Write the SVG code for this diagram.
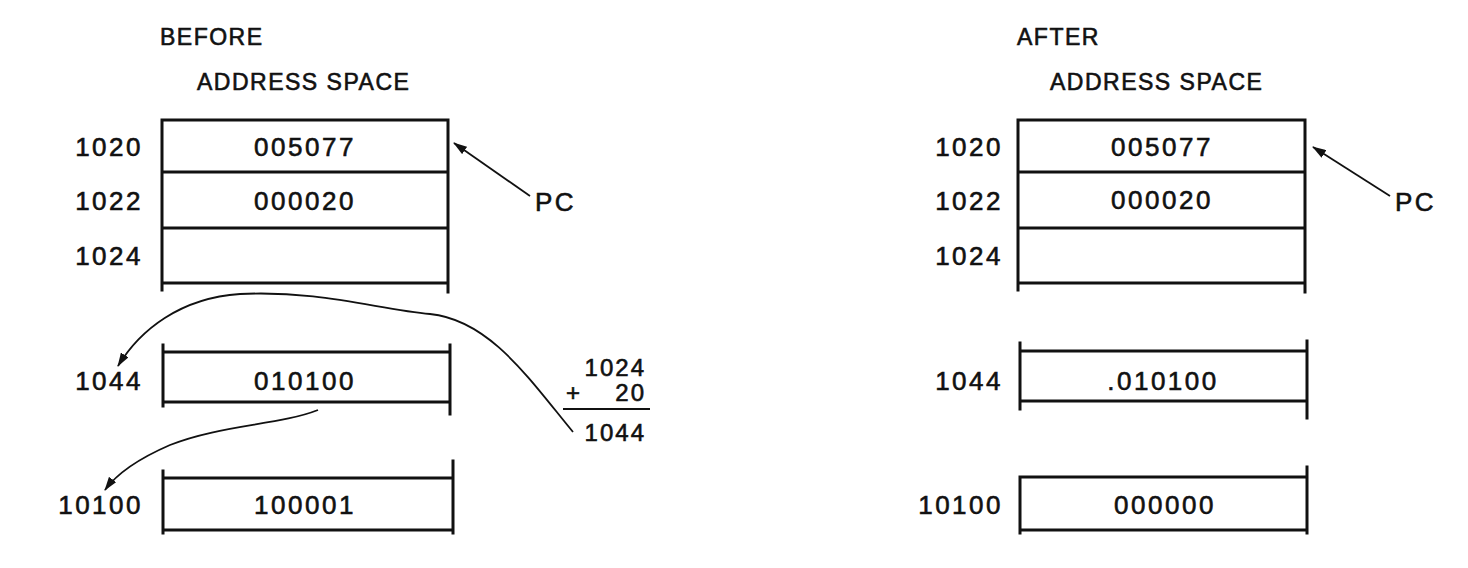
<svg xmlns="http://www.w3.org/2000/svg" width="1468" height="568" viewBox="0 0 1468 568">
<style>
text{font-family:"Liberation Sans",Arial,sans-serif;fill:#111;stroke:#111;stroke-width:0.6}
.h{font-size:23px;letter-spacing:1.5px}
.d{font-size:26px;letter-spacing:2.5px;dominant-baseline:central}
.s{font-size:24px;letter-spacing:2px;dominant-baseline:central}
.c{text-anchor:middle}
.r{text-anchor:end}
.box{stroke:#111;stroke-width:3;fill:none;stroke-linecap:square}
.con{stroke:#111;stroke-width:1.8;fill:none}
</style>
<defs>
<marker id="ah" viewBox="0 0 14 9" refX="13" refY="4.5" markerWidth="14" markerHeight="9" markerUnits="userSpaceOnUse" orient="auto">
<path d="M0,0 L14,4.5 L0,9 Z" fill="#111"/>
</marker>
</defs>
<rect width="1468" height="568" fill="#fff"/>

<g id="before-title">
<text class="h" x="160" y="45">BEFORE</text>
<text class="h" x="197" y="90">ADDRESS SPACE</text>
</g>
<g id="after-title">
<text class="h" x="1017" y="45">AFTER</text>
<text class="h" x="1050" y="90">ADDRESS SPACE</text>
</g>

<g id="before-top">
<path class="box" d="M162,120 H448 M162,172 H448 M162,228 H448 M162,283 H448 M162,120 V290 M448,120 V292"/>
<text class="d c" x="305" y="147">005077</text>
<text class="d c" x="305" y="201">000020</text>
<text class="d r" x="143" y="147">1020</text>
<text class="d r" x="143" y="201">1022</text>
<text class="d r" x="143" y="256">1024</text>
</g>
<g id="before-1044">
<path class="box" d="M163,352 H450 M163,402 H450 M163,345 V406 M450,345 V414"/>
<text class="d c" x="305" y="381">010100</text>
<text class="d r" x="143" y="381">1044</text>
</g>
<g id="before-10100">
<path class="box" d="M163,478 H453 M163,530 H453 M163,471 V533 M453,461 V533"/>
<text class="d c" x="305" y="505">100001</text>
<text class="d r" x="143" y="505">10100</text>
</g>
<g id="pc-before">
<text class="d" x="535" y="202">PC</text>
</g>
<g id="sum">
<text class="s r" x="646" y="367">1024</text>
<text class="s" x="566" y="392">+</text>
<text class="s r" x="646" y="392">20</text>
<line x1="563" y1="409" x2="650" y2="409" stroke="#111" stroke-width="2"/>
<text class="s r" x="646" y="432">1044</text>
</g>

<g id="after-top">
<path class="box" d="M1018,120 H1305 M1018,172 H1305 M1018,228 H1305 M1018,283 H1305 M1018,120 V290 M1305,120 V292"/>
<text class="d c" x="1162" y="147">005077</text>
<text class="d c" x="1162" y="200">000020</text>
<text class="d r" x="1003" y="147">1020</text>
<text class="d r" x="1003" y="201">1022</text>
<text class="d r" x="1003" y="256">1024</text>
</g>
<g id="after-1044">
<path class="box" d="M1020,351 H1307 M1020,401 H1307 M1020,343 V409 M1307,341 V418"/>
<text class="d c" x="1163" y="381">.010100</text>
<text class="d r" x="1003" y="381">1044</text>
</g>
<g id="after-10100">
<path class="box" d="M1020,477 H1307 M1020,530 H1307 M1020,477 V533 M1307,467 V533"/>
<text class="d c" x="1165" y="505">000000</text>
<text class="d r" x="1003" y="505">10100</text>
</g>
<g id="pc-after">
<text class="d" x="1395" y="202">PC</text>
</g>

<g id="connectors">
<line class="con" x1="530" y1="196" x2="454" y2="143" marker-end="url(#ah)"/>
<line class="con" x1="1390" y1="196" x2="1313" y2="147" marker-end="url(#ah)"/>
<path class="con" d="M573,432 C530,380 490,320 430,314 C380,310 320,290 240,294 C180,298 140,330 118,366" marker-end="url(#ah)"/>
<path class="con" d="M318,410 C280,425 220,425 170,445 C140,458 118,472 105,490" marker-end="url(#ah)"/>
</g>
</svg>
